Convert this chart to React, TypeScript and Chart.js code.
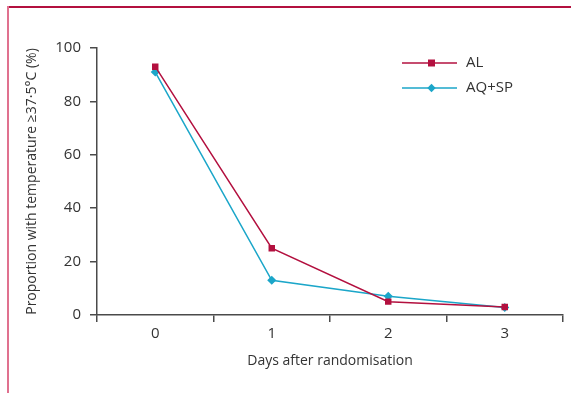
import React, { useEffect, useRef } from "react";
import { Chart, registerables } from "chart.js";

Chart.register(...registerables);

const days = ["0", "1", "2", "3"];
const alValues = [93, 25, 5, 3];
const aqspValues = [91, 13, 7, 2.8];
const yTicks = [0, 20, 40, 60, 80, 100];

const AL_COLOR = "#b3103f";
const AQ_COLOR = "#1ba6c9";
const AXIS_COLOR = "#4a4a4a";
const FONT = "'Open Sans', sans-serif";

const legendPlugin = {
  id: "customLegend",
  afterDraw(chart: any) {
    const ctx = chart.ctx;
    const x0 = 402;
    const x1 = 457;
    const ys = [63, 88];
    ctx.save();
    chart.data.datasets.forEach((ds: any, i: number) => {
      const y = ys[i];
      ctx.strokeStyle = ds.borderColor;
      ctx.lineWidth = 1.5;
      ctx.beginPath();
      ctx.moveTo(x0, y);
      ctx.lineTo(x1, y);
      ctx.stroke();
      const cx = (x0 + x1) / 2 + 2;
      ctx.fillStyle = ds.pointBackgroundColor;
      ctx.beginPath();
      if (ds.pointStyle === "rect") {
        ctx.rect(cx - 3.5, y - 3.5, 7, 7);
      } else {
        const r = 4.2;
        ctx.moveTo(cx, y - r);
        ctx.lineTo(cx + r, y);
        ctx.lineTo(cx, y + r);
        ctx.lineTo(cx - r, y);
        ctx.closePath();
      }
      ctx.fill();
      ctx.fillStyle = "#333";
      ctx.font = `15px ${FONT}`;
      ctx.textBaseline = "middle";
      ctx.textAlign = "left";
      ctx.fillText(ds.label, 466, y);
    });
    ctx.restore();
  },
};

export default function App() {
  const ref = useRef<HTMLCanvasElement>(null);
  useEffect(() => {
    if (!ref.current) return;
    const chart = new Chart(ref.current, {
      type: "line",
      data: {
        labels: days,
        datasets: [
          {
            label: "AL",
            data: alValues,
            borderColor: AL_COLOR,
            backgroundColor: AL_COLOR,
            pointBackgroundColor: AL_COLOR,
            pointBorderColor: AL_COLOR,
            pointStyle: "rect",
            pointRadius: 3.5,
            borderWidth: 1.5,
            tension: 0,
          },
          {
            label: "AQ+SP",
            data: aqspValues,
            borderColor: AQ_COLOR,
            backgroundColor: AQ_COLOR,
            pointBackgroundColor: AQ_COLOR,
            pointBorderColor: AQ_COLOR,
            pointStyle: "rectRot",
            pointRadius: 3.5,
            borderWidth: 1.5,
            tension: 0,
          },
        ],
      },
      options: {
        responsive: false,
        animation: false,
        layout: { padding: { top: 48, right: 8, left: 0, bottom: 0 } },
        plugins: {
          legend: { display: false },
          tooltip: { enabled: false },
        },
        scales: {
          x: {
            type: "category",
            offset: true,
            grid: {
              offset: true,
              drawOnChartArea: false,
              drawTicks: true,
              tickLength: 7,
              color: AXIS_COLOR,
              lineWidth: 1.5,
            },
            border: { display: true, color: AXIS_COLOR, width: 1.5 },
            ticks: {
              color: "#333",
              font: { family: FONT, size: 15 },
              padding: 3,
            },
            title: {
              display: true,
              text: "Days after randomisation",
              color: "#333",
              font: { family: FONT, size: 14 },
              padding: { top: 0, bottom: 24 },
            },
            afterFit(scale: any) {
              scale.height = 78;
            },
          },
          y: {
            min: 0,
            max: 100,
            afterBuildTicks(scale: any) {
              scale.ticks = yTicks.map((v) => ({ value: v }));
            },
            grid: {
              drawOnChartArea: false,
              drawTicks: true,
              tickLength: 7,
              color: AXIS_COLOR,
              lineWidth: 1.5,
            },
            border: { display: true, color: AXIS_COLOR, width: 1.5 },
            ticks: {
              color: "#333",
              font: { family: FONT, size: 15 },
              padding: 9,
            },
            title: {
              display: true,
              text: "Proportion with temperature ≥37·5°C (%)",
              color: "#333",
              font: { family: FONT, size: 14 },
              padding: { top: 24, bottom: 0 },
            },
            afterFit(scale: any) {
              scale.width = 97;
            },
          },
        },
      },
      plugins: [legendPlugin],
    });
    return () => chart.destroy();
  }, []);

  return (
    <div style={{ position: "fixed", left: 0, top: 0, width: 571, height: 393, background: "#fff" }}>
      <div style={{ position: "absolute", left: 8, top: 6, width: 563, height: 1.5, background: "#b3103f" }} />
      <div style={{ position: "absolute", left: 7, top: 6, width: 2, height: 387, background: "#e0718f" }} />
      <canvas ref={ref} width={571} height={393} style={{ position: "absolute", left: 0, top: 0, width: 571, height: 393 }} />
    </div>
  );
}
